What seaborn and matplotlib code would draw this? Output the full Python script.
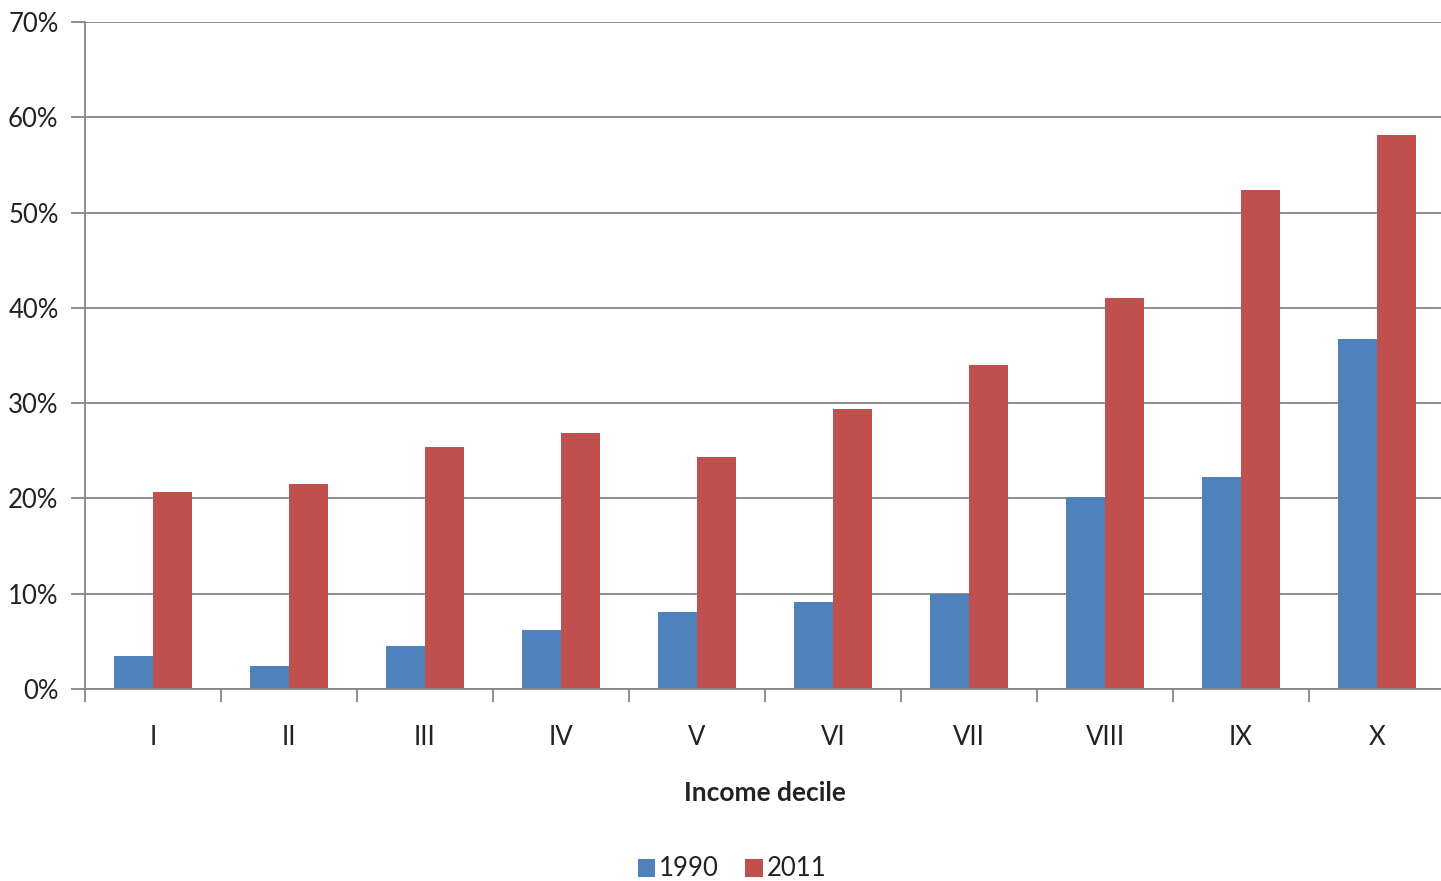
import matplotlib
matplotlib.use("Agg")
import matplotlib.pyplot as plt
import seaborn as sns
import pandas as pd
from matplotlib.ticker import FixedLocator, PercentFormatter
from matplotlib.patches import Patch

categories = ["I", "II", "III", "IV", "V", "VI", "VII", "VIII", "IX", "X"]
values_1990 = [3.5, 2.4, 4.5, 6.2, 8.1, 9.1, 10.0, 20.1, 22.2, 36.7]
values_2011 = [20.7, 21.5, 25.4, 26.9, 24.3, 29.4, 34.0, 41.0, 52.4, 58.1]
series = ["1990", "2011"]
colors = ["#4F81BD", "#C0504D"]

df = pd.DataFrame({
    "decile": categories * 2,
    "value": values_1990 + values_2011,
    "year": [series[0]] * len(categories) + [series[1]] * len(categories),
})

sns.set_style("white")
plt.rcParams["font.family"] = ["Lato", "DejaVu Sans"]

W, H = 1441, 881
fig = plt.figure(figsize=(W / 100, H / 100), dpi=100)
ax = fig.add_axes([85 / W, 1 - 689 / H, 1360 / W, (689 - 22) / H])

sns.barplot(data=df, x="decile", y="value", hue="year", order=categories,
            hue_order=series, palette=colors, width=0.574, gap=0,
            saturation=1, ax=ax, legend=False, edgecolor="none", linewidth=0)

ax.set_xlim(-0.5, len(categories) - 0.5)
ax.set_ylim(0, 70)
ax.set_yticks(range(0, 71, 10))
ax.yaxis.set_major_formatter(PercentFormatter(decimals=0))
ax.grid(axis="y", color="#868686", linewidth=1.3)
ax.set_axisbelow(True)

for s in ["top", "right"]:
    ax.spines[s].set_visible(False)
for s in ["left", "bottom"]:
    ax.spines[s].set_color("#868686")
    ax.spines[s].set_linewidth(1.3)

ax.tick_params(axis="y", which="major", direction="out", length=10, width=1.3,
               color="#868686", labelsize=18.5, labelcolor="#222222", pad=9, left=True)
ax.tick_params(axis="x", which="major", length=0, labelsize=18.5,
               labelcolor="#222222", pad=26)
ax.xaxis.set_minor_locator(FixedLocator([i - 0.5 for i in range(len(categories) + 1)]))
ax.tick_params(axis="x", which="minor", direction="out", length=9, width=1.3,
               color="#868686", bottom=True)

ax.set_ylabel("")
ax.set_xlabel("Income decile", fontsize=19, fontweight="bold", color="#222222", labelpad=22)

handles = [Patch(facecolor=c, edgecolor="none") for c in colors]
fig.legend(handles, series, loc="center", bbox_to_anchor=(732 / W, 1 - 869 / H),
           ncol=2, frameon=False, fontsize=18.5, handlelength=0.7, handleheight=0.7,
           handletextpad=0.15, columnspacing=1.0, labelcolor="#222222")

fig.savefig("out.png", dpi=100, facecolor="white")
